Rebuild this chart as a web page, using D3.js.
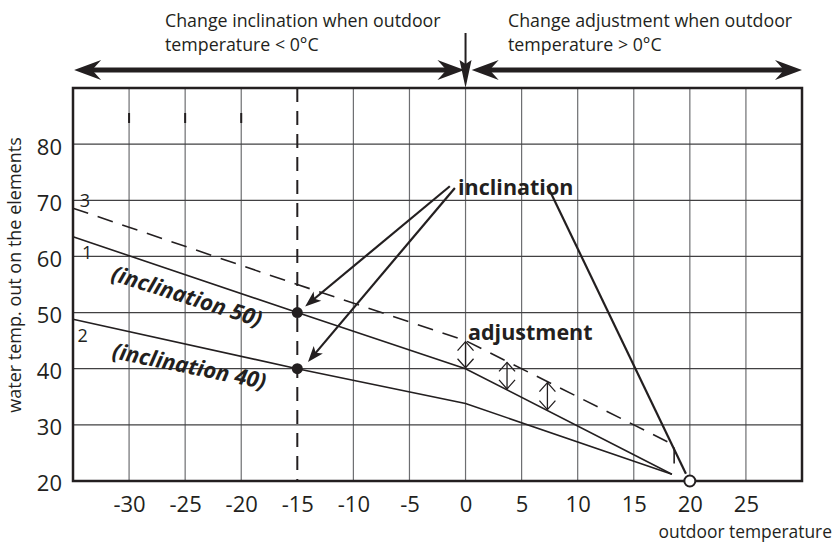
<!DOCTYPE html>
<html>
<head>
<meta charset="utf-8">
<script src="https://cdn.jsdelivr.net/npm/d3@7"></script>
<style>
  body { margin: 0; background: #fff; }
  text { font-family: "Open Sans", sans-serif; fill: #231f20; }
</style>
</head>
<body>
<div id="chart"></div>
<script>
// ticks
var xTicks = [-30, -25, -20, -15, -10, -5, 0, 5, 10, 15, 20, 25];
var yTicks = [20, 30, 40, 50, 60, 70, 80];
var yGrid = [30, 40, 50, 60, 70, 80];

// heating curves [outdoor temp, water temp]
var curve1 = [[-35, 63.5], [-15, 50], [0, 40], [18.4, 21.2]];
var curve2 = [[-35, 48.8], [-15, 40], [0, 33.8], [18.4, 21.2]];
var curve3 = [[-35, 68.6], [-15, 55], [0, 45], [18.6, 26.4], [18.6, 21.5]];
var curveLabels = [{t: "3", x: -34.4, y: 68.8}, {t: "1", x: -34.2, y: 59.5}, {t: "2", x: -34.6, y: 44.8}];

var dots = [[-15, 50], [-15, 40]];
var adjustX = [0, 3.7, 7.3];
var stopPoint = [20, 20];

// pointer lines from the "inclination" label
var pointers = [
  {from: [-1.4, 72.5], to: [-14.3, 51.1]},
  {from: [-0.95, 72.2], to: [-14.05, 41.2]}
];
var pointerLong = {from: [7.3, 72.6], to: [19.65, 21.3]};

var margin = {top: 88, right: 33, bottom: 64, left: 73},
    width = 835 - margin.left - margin.right,
    height = 545 - margin.top - margin.bottom;

var x = d3.scaleLinear().domain([-35, 30]).range([0, width]);
var y = d3.scaleLinear().domain([20, 90]).range([height, 0]);

var svg = d3.select("#chart").append("svg")
    .attr("width", 835)
    .attr("height", 545);
var g = svg.append("g").attr("transform", "translate(" + margin.left + "," + margin.top + ")");

// grid
g.selectAll(".vgrid").data(xTicks).enter().append("line")
    .attr("x1", d => x(d)).attr("x2", d => x(d))
    .attr("y1", 0).attr("y2", height)
    .attr("stroke", d => d == -15 ? "none" : "#6d6e71").attr("stroke-width", 1.2);
g.selectAll(".hgrid").data(yGrid).enter().append("line")
    .attr("x1", 0).attr("x2", width)
    .attr("y1", d => y(d)).attr("y2", d => y(d))
    .attr("stroke", "#414042").attr("stroke-width", 1.2);

// little dark marks at top of some grid lines
g.selectAll(".mark").data([-30, -25, -20]).enter().append("line")
    .attr("x1", d => x(d)).attr("x2", d => x(d))
    .attr("y1", 25).attr("y2", 35)
    .attr("stroke", "#231f20").attr("stroke-width", 2);

// dashed -15 line
g.append("line")
    .attr("x1", x(-15)).attr("x2", x(-15)).attr("y1", 0).attr("y2", height)
    .attr("stroke", "#231f20").attr("stroke-width", 2)
    .attr("stroke-dasharray", "14,9");

// frame
g.append("rect").attr("x", 0).attr("y", 0).attr("width", width).attr("height", height)
    .attr("fill", "none").attr("stroke", "#231f20").attr("stroke-width", 2.5);

// axis labels
var xAxis = d3.axisBottom(x).tickValues(xTicks).tickSize(0).tickPadding(0).tickFormat(d3.format("d"));
var gx = g.append("g").attr("transform", "translate(0," + height + ")").call(xAxis);
gx.select(".domain").remove();
gx.selectAll("text").attr("dy", null).attr("y", 31)
    .style("font-size", "22px").style("font-family", "'Open Sans', sans-serif").attr("fill", "#231f20")
    .text(d => d < 0 ? "-" + Math.abs(d) : d);

var yAxis = d3.axisLeft(y).tickValues(yTicks).tickSize(0).tickPadding(11);
var gy = g.append("g").call(yAxis);
gy.select(".domain").remove();
gy.selectAll("text").attr("dy", "0.45em")
    .style("font-size", "22px").style("font-family", "'Open Sans', sans-serif").attr("fill", "#231f20");

svg.append("text")
    .attr("transform", "translate(21," + 275 + ") rotate(-90)")
    .attr("text-anchor", "middle").style("font-size", "18px")
    .text("water temp. out on the elements");

svg.append("text").attr("x", 832).attr("y", 538).attr("text-anchor", "end")
    .style("font-size", "17.4px").text("outdoor temperature");

// curves
var line = d3.line().x(d => x(d[0])).y(d => y(d[1]));
g.append("path").datum(curve1).attr("d", line).attr("fill", "none")
    .attr("stroke", "#231f20").attr("stroke-width", 1.6);
g.append("path").datum(curve2).attr("d", line).attr("fill", "none")
    .attr("stroke", "#231f20").attr("stroke-width", 1.6);
g.append("path").datum(curve3).attr("d", line).attr("fill", "none")
    .attr("stroke", "#231f20").attr("stroke-width", 1.6).attr("stroke-dasharray", "16,10");

g.selectAll(".clabel").data(curveLabels).enter().append("text")
    .attr("x", d => x(d.x)).attr("y", d => y(d.y))
    .style("font-size", "18px").text(d => d.t);

// dots and stop circle
g.selectAll(".dot").data(dots).enter().append("circle")
    .attr("cx", d => x(d[0])).attr("cy", d => y(d[1])).attr("r", 5.5).attr("fill", "#231f20");
g.append("circle").attr("cx", x(stopPoint[0])).attr("cy", y(stopPoint[1])).attr("r", 5.5)
    .attr("fill", "#fff").attr("stroke", "#231f20").attr("stroke-width", 2);

// adjustment double arrows
function lineVal(c, xv) {
  for (var i = 0; i < c.length - 1; i++) {
    if (xv >= c[i][0] && xv <= c[i + 1][0]) {
      var t = (xv - c[i][0]) / (c[i + 1][0] - c[i][0]);
      return c[i][1] + t * (c[i + 1][1] - c[i][1]);
    }
  }
}
adjustX.forEach(function(xv) {
  var px = x(xv), y1 = y(lineVal(curve3, xv)) + 1, y2 = y(lineVal(curve1, xv)) - 1;
  g.append("line").attr("x1", px).attr("x2", px).attr("y1", y1).attr("y2", y2)
      .attr("stroke", "#231f20").attr("stroke-width", 1.3);
  g.append("path").attr("d", "M" + (px - 8) + "," + (y1 + 9) + "L" + px + "," + y1 + "L" + (px + 8) + "," + (y1 + 9))
      .attr("fill", "none").attr("stroke", "#231f20").attr("stroke-width", 1.3);
  g.append("path").attr("d", "M" + (px - 8) + "," + (y2 - 9) + "L" + px + "," + y2 + "L" + (px + 8) + "," + (y2 - 9))
      .attr("fill", "none").attr("stroke", "#231f20").attr("stroke-width", 1.3);
});

// arrowhead helper: tip, direction (unit from tail to tip), length, half width, notch
function head(tx, ty, ux, uy, len, hw, notch) {
  var bx = tx - ux * len, by = ty - uy * len;
  var nx = -uy, ny = ux;
  var cx = tx - ux * (len - notch), cy = ty - uy * (len - notch);
  return "M" + tx + "," + ty + "L" + (bx + nx * hw) + "," + (by + ny * hw) +
         "L" + cx + "," + cy + "L" + (bx - nx * hw) + "," + (by - ny * hw) + "Z";
}

// pointers
pointers.concat([pointerLong]).forEach(function(p, i) {
  var x1 = x(p.from[0]), y1 = y(p.from[1]), x2 = x(p.to[0]), y2 = y(p.to[1]);
  var dx = x2 - x1, dy = y2 - y1, L = Math.sqrt(dx * dx + dy * dy), ux = dx / L, uy = dy / L;
  var end = i < 2 ? 10 : 0;
  g.append("line").attr("x1", x1).attr("y1", y1).attr("x2", x2 - ux * end).attr("y2", y2 - uy * end)
      .attr("stroke", "#231f20").attr("stroke-width", 2.2);
  if (i < 2) g.append("path").attr("d", head(x2, y2, ux, uy, 16, 6, 4)).attr("fill", "#231f20");
});

// labels inside plot
g.append("text").attr("x", x(-0.67)).attr("y", y(70.94)).style("font-size", "21.5px")
    .style("font-weight", "bold").text("inclination");
g.append("text").attr("x", x(0.22)).attr("y", y(45.1)).style("font-size", "21.5px")
    .style("font-weight", "bold").text("adjustment");
g.append("text").attr("transform", "translate(" + x(-31.7) + "," + y(55.8) + ") rotate(17.5)")
    .style("font-size", "22px").style("font-weight", "bold").style("font-style", "italic")
    .text("(inclination 50)");
g.append("text").attr("transform", "translate(" + x(-31.6) + "," + y(41.9) + ") rotate(11.5)")
    .style("font-size", "22px").style("font-weight", "bold").style("font-style", "italic")
    .text("(inclination 40)");

// top range arrows
var ay = -18;
function bigArrow(xa, xb) {
  var a = x(xa), b = x(xb);
  g.append("line").attr("x1", a + 15).attr("x2", b - 15).attr("y1", ay).attr("y2", ay)
      .attr("stroke", "#231f20").attr("stroke-width", 5);
  g.append("path").attr("d", head(a, ay, -1, 0, 27, 10, 9)).attr("fill", "#231f20");
  g.append("path").attr("d", head(b, ay, 1, 0, 27, 10, 9)).attr("fill", "#231f20");
}
bigArrow(-34.9, -0.1);
bigArrow(0.55, 30);

g.append("line").attr("x1", x(0)).attr("x2", x(0)).attr("y1", -55).attr("y2", -12)
    .attr("stroke", "#231f20").attr("stroke-width", 2);
g.append("path").attr("d", head(x(0), 0, 0, 1, 28, 6, 4)).attr("fill", "#231f20");

// top texts
var topL = svg.append("text").attr("x", 165).attr("y", 27).style("font-size", "17.8px");
topL.append("tspan").attr("x", 165).text("Change inclination when outdoor");
topL.append("tspan").attr("x", 165).attr("dy", 24).text("temperature < 0°C");
var topR = svg.append("text").attr("x", 508).attr("y", 27).style("font-size", "17.8px");
topR.append("tspan").attr("x", 508).text("Change adjustment when outdoor");
topR.append("tspan").attr("x", 508).attr("dy", 24).text("temperature > 0°C");
</script>
</body>
</html>
